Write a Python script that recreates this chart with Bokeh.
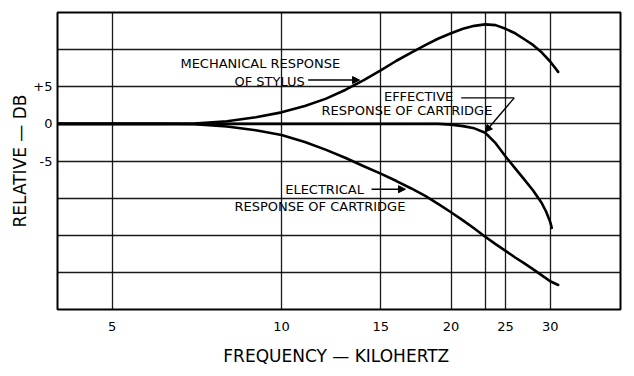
from bokeh.plotting import figure
from bokeh.models import FixedTicker, Label, Arrow, NormalHead, Range1d
from bokeh.embed import file_html
from bokeh.resources import INLINE

# ---- data ----
mech_khz = [4, 6, 7, 8, 9, 10, 11, 12, 13, 14, 15, 16, 17, 18, 19, 20, 21, 22, 23, 24, 25, 26, 27, 28, 29, 30, 31]
mech_db = [0, 0, 0.05, 0.35, 0.9, 1.55, 2.4, 3.4, 4.6, 5.9, 7.2, 8.5, 9.6, 10.6, 11.5, 12.2, 12.8, 13.2, 13.4, 13.3, 12.8, 12.2, 11.4, 10.6, 9.6, 8.4, 7.0]

eff_khz = [4, 19, 20, 21, 22, 23, 24, 25, 26, 27, 28, 29, 29.5, 30, 30.2]
eff_db = [0, 0, -0.1, -0.3, -0.6, -1.2, -2.6, -4.4, -6.0, -7.5, -9.0, -10.7, -11.8, -13.2, -14.0]

elec_khz = [4, 6, 7, 8, 9, 10, 11, 12, 13, 14, 15, 16, 17, 18, 19, 20, 21, 22, 23, 24, 25, 26, 27, 28, 29, 30, 31]
elec_db = [0, 0, -0.05, -0.35, -0.85, -1.5, -2.45, -3.5, -4.6, -5.7, -6.7, -7.7, -8.7, -9.7, -10.8, -11.9, -13.0, -14.1, -15.2, -16.2, -17.1, -18.0, -18.8, -19.6, -20.4, -21.2, -21.7]

x_ticks = [5, 10, 15, 20, 25, 30]
x_tick_labels = ["5", "10", "15", "20", "25", "30"]
x_grid = [5, 10, 15, 20, 23, 25, 30]
y_ticks = [5, 0, -5]
y_tick_labels = ["+5", "0", "-5"]
y_grid = [-25, -20, -15, -10, -5, 0, 5, 10, 15]

x_title = "FREQUENCY \u2014  KILOHERTZ"
y_title = "RELATIVE \u2014 DB"

FONT = "DejaVu Sans"

p = figure(frame_width=563, frame_height=297, x_axis_type="log",
           x_range=Range1d(4, 40), y_range=Range1d(-25, 15),
           output_backend="svg", toolbar_location=None,
           min_border_left=57, min_border_right=10, min_border_top=12, min_border_bottom=60)

p.background_fill_color = "white"
p.border_fill_color = "white"
p.outline_line_color = "black"
p.outline_line_width = 2

p.xaxis.ticker = FixedTicker(ticks=x_ticks)
p.xaxis.major_label_overrides = {t: s for t, s in zip(x_ticks, x_tick_labels)}
p.yaxis.ticker = FixedTicker(ticks=y_ticks)
p.yaxis.major_label_overrides = {t: s for t, s in zip(y_ticks, y_tick_labels)}
p.xgrid.ticker = FixedTicker(ticks=x_grid)
p.ygrid.ticker = FixedTicker(ticks=y_grid)

p.grid.grid_line_color = "black"
p.grid.grid_line_alpha = 0.9
p.grid.grid_line_width = 1.3
p.xgrid.minor_grid_line_color = None

for ax in (p.xaxis, p.yaxis):
    ax.axis_line_color = None
    ax.major_tick_line_color = None
    ax.minor_tick_line_color = None
    ax.major_tick_out = 0
    ax.major_tick_in = 0
    ax.minor_tick_out = 0
    ax.minor_tick_in = 0
    ax.major_label_text_font = FONT
    ax.major_label_text_font_size = "13px"
    ax.major_label_text_color = "black"
    ax.axis_label_text_font = FONT
    ax.axis_label_text_font_style = "normal"
    ax.axis_label_text_color = "black"
    ax.axis_label_text_font_size = "17px"

p.xaxis.axis_label = x_title
p.xaxis.major_label_standoff = 12
p.xaxis.axis_label_standoff = 12
p.yaxis.axis_label = y_title
p.yaxis.major_label_standoff = 5
p.yaxis.axis_label_standoff = 0

for xs, ys in ((mech_khz, mech_db), (eff_khz, eff_db), (elec_khz, elec_db)):
    p.line(xs, ys, line_color="black", line_width=2.6, line_join="round", line_cap="round")

def lab(x, y, text, align="center"):
    p.add_layout(Label(x=x, y=y, text=text, text_font=FONT, text_font_size="13px",
                       text_color="black", text_align=align, text_baseline="middle"))

def arrow(x0, y0, x1, y1, head=True):
    end = NormalHead(size=7, fill_color="black", line_color="black") if head else None
    p.add_layout(Arrow(x_start=x0, y_start=y0, x_end=x1, y_end=y1, end=end,
                       line_color="black", line_width=1.4))

lab(9.17, 8.1, "MECHANICAL RESPONSE")
lab(11.0, 5.7, "OF STYLUS", "right")
arrow(11.15, 5.9, 13.76, 5.9)

lab(15.2, 3.7, "EFFECTIVE", "left")
lab(16.7, 1.75, "RESPONSE OF CARTRIDGE")
arrow(20.85, 3.5, 25.9, 3.5, head=False)
arrow(25.9, 3.5, 23.0, -1.1)

lab(10.15, -8.8, "ELECTRICAL", "left")
lab(11.7, -11.15, "RESPONSE OF CARTRIDGE")
arrow(14.45, -8.8, 16.6, -8.8)

open("out.html", "w").write(file_html(p, INLINE))
